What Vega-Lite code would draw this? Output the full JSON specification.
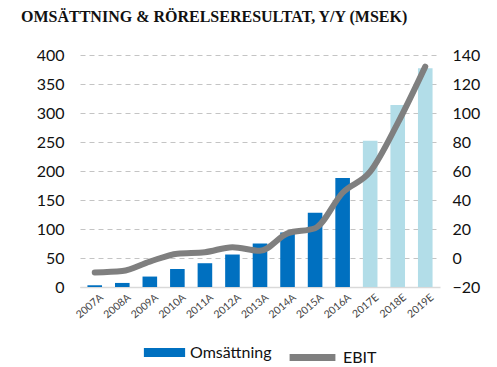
{
  "$schema": "https://vega.github.io/schema/vega-lite/v6.json",
  "width": 360,
  "height": 232,
  "autosize": {"type": "none"},
  "padding": {"left": 80, "top": 55, "right": 57, "bottom": 80},
  "background": "white",
  "title": {
    "text": "OMSÄTTNING & RÖRELSERESULTAT, Y/Y (MSEK)",
    "anchor": "start",
    "frame": "group",
    "dx": -59,
    "offset": 22,
    "font": "Liberation Serif",
    "fontSize": 16,
    "fontWeight": "bold",
    "color": "#111111"
  },
  "data": {
    "values": [
      {"year": "2007A", "oms": 3, "ebit": -10, "serie": "Omsättning"},
      {"year": "2008A", "oms": 7, "ebit": -9, "serie": "Omsättning"},
      {"year": "2009A", "oms": 18, "ebit": -2.5, "serie": "Omsättning"},
      {"year": "2010A", "oms": 31, "ebit": 3, "serie": "Omsättning"},
      {"year": "2011A", "oms": 41, "ebit": 4, "serie": "Omsättning"},
      {"year": "2012A", "oms": 56, "ebit": 7.5, "serie": "Omsättning"},
      {"year": "2013A", "oms": 75, "ebit": 5, "serie": "Omsättning"},
      {"year": "2014A", "oms": 94, "ebit": 17, "serie": "Omsättning"},
      {"year": "2015A", "oms": 128, "ebit": 20.5, "serie": "Omsättning"},
      {"year": "2016A", "oms": 188, "ebit": 45, "serie": "Omsättning"},
      {"year": "2017E", "oms": 252, "ebit": 59.5, "serie": "Prognos"},
      {"year": "2018E", "oms": 314, "ebit": 93, "serie": "Prognos"},
      {"year": "2019E", "oms": 377, "ebit": 132, "serie": "Prognos"}
    ]
  },
  "encoding": {
    "x": {
      "field": "year",
      "type": "nominal",
      "sort": null,
      "scale": {"paddingInner": 0.47, "paddingOuter": 0.27},
      "axis": {
        "title": null,
        "labelAngle": -40,
        "labelAlign": "right",
        "labelBaseline": "top",
        "labelFont": "Lato",
        "labelFontSize": 10.5,
        "labelColor": "#444444",
        "labelPadding": 5,
        "labelOffset": 4,
        "ticks": false,
        "domainColor": "#d9d9d9",
        "domainWidth": 1.5,
        "grid": false
      }
    }
  },
  "layer": [
    {
      "mark": {"type": "bar"},
      "encoding": {
        "y": {
          "field": "oms",
          "type": "quantitative",
          "scale": {"domain": [0, 400], "nice": false},
          "axis": {
            "title": null,
            "values": [0, 50, 100, 150, 200, 250, 300, 350, 400],
            "labelFont": "Lato",
            "labelFontSize": 16,
            "labelColor": "#111111",
            "labelPadding": 16,
            "ticks": false,
            "domain": false,
            "grid": true,
            "gridColor": "#c4c4c4",
            "gridDash": [5, 4],
            "gridWidth": 1
          }
        },
        "color": {
          "field": "serie",
          "type": "nominal",
          "scale": {"domain": ["Omsättning", "Prognos"], "range": ["#0070C0", "#B2DDE8"]},
          "legend": {
            "title": null,
            "values": ["Omsättning"],
            "symbolType": "M-1,-0.22H1V0.22H-1Z",
            "symbolSize": 1700,
            "symbolOpacity": 1
          }
        }
      }
    },
    {
      "mark": {"type": "line", "interpolate": "monotone", "strokeWidth": 6, "strokeCap": "round"},
      "encoding": {
        "y": {
          "field": "ebit",
          "type": "quantitative",
          "scale": {"domain": [-20, 140], "nice": false},
          "axis": {
            "orient": "right",
            "title": null,
            "values": [-20, 0, 20, 40, 60, 80, 100, 120, 140],
            "labelFont": "Lato",
            "labelFontSize": 16,
            "labelColor": "#111111",
            "labelPadding": 12,
            "ticks": false,
            "domain": false,
            "grid": false
          }
        },
        "stroke": {
          "datum": "EBIT",
          "type": "nominal",
          "scale": {"domain": ["EBIT"], "range": ["#7f7f7f"]},
          "legend": {
            "title": null,
            "symbolType": "stroke",
            "symbolSize": 2100,
            "symbolStrokeWidth": 7
          }
        }
      }
    }
  ],
  "resolve": {"scale": {"y": "independent"}},
  "config": {
    "view": {"stroke": null},
    "legend": {
      "orient": "bottom",
      "direction": "horizontal",
      "labelFont": "Lato",
      "labelFontSize": 16,
      "labelColor": "#111111",
      "offset": 10,
      "symbolOffset": 0,
      "labelOffset": 4,
      "layout": {"bottom": {"anchor": "middle", "direction": "horizontal", "margin": 14}}
    }
  }
}
